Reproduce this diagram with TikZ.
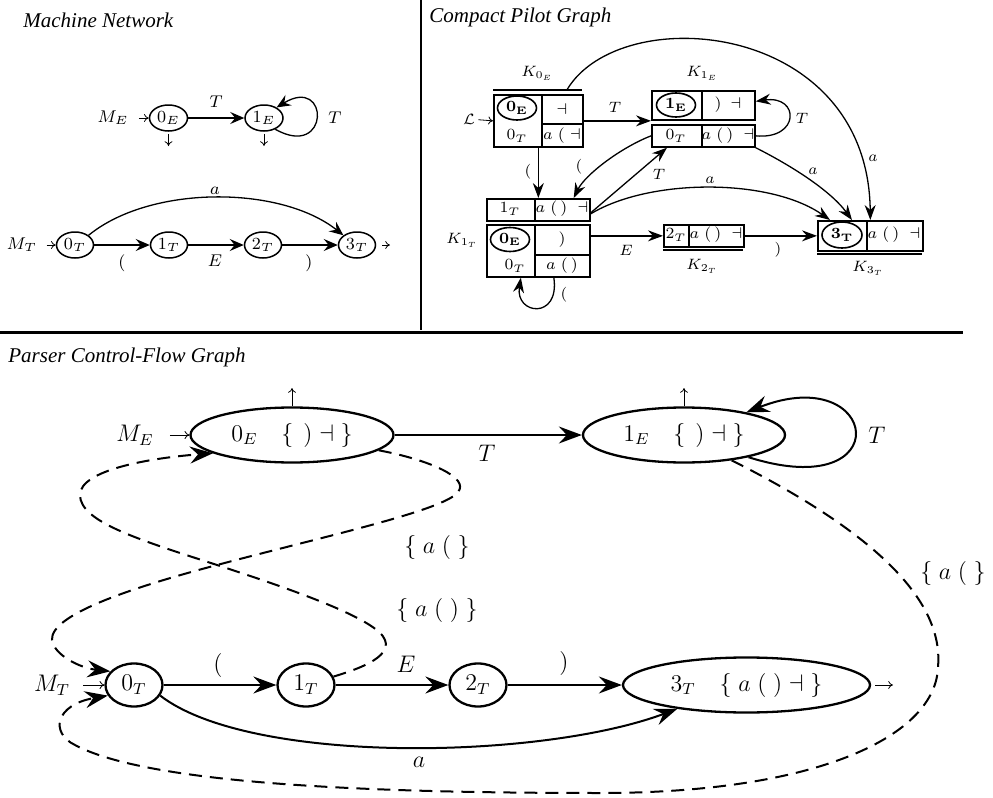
\RequirePackage{fix-cm}
\documentclass[tikz,border=0pt]{standalone}
\usepackage[no-math]{fontspec}
\setmainfont{Liberation Serif}
\usetikzlibrary{arrows.meta,shapes.geometric}
\begin{document}
\begin{tikzpicture}[x=0.5pt,y=0.5pt,
  title/.style={anchor=west,inner sep=0pt,font=\fontsize{10.5}{12}\selectfont\itshape},
  thinarrow/.style={line width=0.4pt,-{To[length=2.4pt,width=4pt]}},
  % top-left
  tlstate/.style={ellipse,draw,line width=0.75pt,minimum width=19pt,minimum height=13pt,inner sep=0pt,font=\fontsize{8.5}{10}\selectfont},
  tllab/.style={inner sep=0pt,font=\fontsize{8.5}{10}\selectfont},
  tledge/.style={line width=0.65pt,-{Stealth[length=7pt,width=6pt,inset=2.5pt]}},
  % top-right
  cellbox/.style={rectangle,draw,line width=0.85pt,inner sep=0pt,anchor=north west},
  celltext/.style={inner sep=0pt,font=\fontsize{7.8}{9}\selectfont},
  cellstate/.style={ellipse,draw,line width=0.8pt,minimum width=19.5pt,minimum height=12pt,inner sep=0pt,font=\fontsize{7.8}{9}\selectfont},
  trlab/.style={inner sep=0pt,font=\fontsize{7.5}{9}\selectfont},
  tredge/.style={line width=0.65pt,-{Stealth[length=7.5pt,width=5.5pt,inset=2.5pt]}},
  % bottom
  bstate/.style={ellipse,draw,line width=1.15pt,inner sep=0pt,font=\fontsize{12}{14}\selectfont},
  blab/.style={inner sep=0pt,font=\fontsize{12}{14}\selectfont},
  bedge/.style={line width=1pt,-{Stealth[length=11.5pt,width=8.5pt,inset=4pt]}},
  bdash/.style={bedge,dash pattern=on 6.5pt off 4pt}
]
\useasboundingbox (0,0) rectangle (993,-798);
\fill[white] (0,0) rectangle (993,-798);

% ---------- section frame ----------
\draw[line width=1pt] (421,0) -- (421,-330);
\draw[line width=1.5pt] (0,-332) -- (963,-332);

\node[title] (t1) at (23,-20) {Machine Network};
\node[title] (t2) at (429,-17) {Compact Pilot Graph};
\node[title] (t3) at (8,-357) {Parser Control-Flow Graph};

% ---------- Machine network ----------
\node[tlstate] (tE0) at (168.5,-118) {$0_E$};
\node[tlstate] (tE1) at (264,-118) {$1_E$};
\node[tllab] (lME) at (113,-118) {$M_E$};
\coordinate (tE0d) at (168.5,-146);
\coordinate (tE1d) at (264,-146);
\draw[thinarrow,shorten <=5pt] (lME) -- (tE0);
\draw[thinarrow,shorten <=1pt] (tE0.south) -- (tE0d);
\draw[thinarrow,shorten <=1pt] (tE1.south) -- (tE1d);
\draw[tledge] (tE0) -- node[tllab,above=5pt] {$T$} (tE1);
\draw[tledge] (tE1.-45) .. controls (330,-160) and (330,-75) .. (tE1.40);
\node[tllab] (lTl) at (335,-118) {$T$};

\node[tlstate,minimum width=18.5pt] (tT0) at (75,-245) {$0_T$};
\node[tlstate,minimum width=18.5pt] (tT1) at (169,-245) {$1_T$};
\node[tlstate,minimum width=18.5pt] (tT2) at (263,-245) {$2_T$};
\node[tlstate,minimum width=18.5pt] (tT3) at (357,-245) {$3_T$};
\node[tllab] (lMT) at (22,-245) {$M_T$};
\coordinate (tT3f) at (390,-245);
\draw[thinarrow,shorten <=4.5pt] (lMT) -- (tT0);
\draw[thinarrow,shorten <=3pt] (tT3.east) -- (tT3f);
\draw[tledge] (tT0) -- (tT1);
\draw[tledge] (tT1) -- (tT2);
\draw[tledge] (tT2) -- (tT3);
\node[tllab] at (122,-263) {$($};
\node[tllab] at (215,-261) {$E$};
\node[tllab] at (309,-263) {$)$};
\draw[tledge] (tT0.north east) .. controls (150,-185) and (280,-185) .. (tT3.north west);
\node[tllab] at (215,-191) {$a$};

% ---------- Compact pilot graph ----------
\node[cellbox,minimum width=44.5pt,minimum height=26pt] (K0E) at (493,-94) {};
\node[cellbox,minimum width=51.5pt,minimum height=14.5pt] (K1Eu) at (651,-90) {};
\node[cellbox,minimum width=51.5pt,minimum height=11pt] (K1El) at (651,-124) {};
\node[cellbox,minimum width=51.5pt,minimum height=11pt] (K1Tu) at (486,-198) {};
\node[cellbox,minimum width=51.5pt,minimum height=26pt] (K1Tl) at (486,-224) {};
\node[cellbox,minimum width=40pt,minimum height=11pt] (K2T) at (663,-224) {};
\node[cellbox,minimum width=52.5pt,minimum height=15pt] (K3T) at (817,-220) {};

\begin{scope}[line width=0.85pt]
\draw (542,-94) -- (542,-146);
\draw (542,-124) -- (582,-124);
\draw (702,-90) -- (702,-119);
\draw (702,-124) -- (702,-146);
\draw (535,-198) -- (535,-220);
\draw (535,-224) -- (535,-276);
\draw (535,-255) -- (589,-255);
\draw (689,-224) -- (689,-246);
\draw (867,-220) -- (867,-250);
\draw (493,-90) -- (582,-90);
\draw (663,-250) -- (743,-250);
\draw[line width=0.6pt] (817,-254) -- (922,-254);
\end{scope}

\node[cellstate] (c0E) at (517,-108) {$\mathbf{0_E}$};
\node[celltext] at (517,-136) {$0_T$};
\node[celltext] at (562,-109) {$\dashv$};
\node[celltext] at (562,-136) {$a\;(\;\dashv$};

\node[cellstate] (c1E) at (676,-105) {$\mathbf{1_E}$};
\node[celltext] at (728,-105) {$)\ \dashv$};
\node[celltext] at (676,-136) {$0_T$};
\node[celltext] at (728,-136) {$a\;(\,)\;\dashv$};

\node[celltext] at (510,-209) {$1_T$};
\node[celltext] at (562,-209) {$a\;(\,)\;\dashv$};
\node[cellstate] (c0E2) at (510,-239.5) {$\mathbf{0_E}$};
\node[celltext] at (562,-240) {$)$};
\node[celltext] at (515,-266) {$0_T$};
\node[celltext] at (562,-266) {$a\;(\,)$};

\node[celltext] at (676,-235) {$2_T$};
\node[celltext] at (716,-235) {$a\;(\,)\;\dashv$};

\node[cellstate,minimum width=20pt,minimum height=13pt] (c3T) at (842,-235) {$\mathbf{3_T}$};
\node[celltext] at (894,-235) {$a\;(\,)\;\dashv$};

\node[trlab] (kl0E) at (537,-73) {$K_{0_E}$};
\node[trlab] (kl1E) at (702,-73) {$K_{1_E}$};
\node[trlab] (kl1T) at (462,-240) {$K_{1_T}$};
\node[trlab] (kl2T) at (702,-266) {$K_{2_T}$};
\node[trlab] (kl3T) at (868,-268) {$K_{3_T}$};

\node[trlab] (lL) at (469,-119) {$\mathcal{L}$};
\draw[thinarrow,shorten <=1.5pt] (lL) -- (K0E.west);

\draw[tredge] (K0E.east) -- (K0E.east -| K1Eu.west);
\node[trlab] at (615,-107) {$T$};
\draw[tredge] (K0E.south) -- (K1Tu.north);
\node[trlab] at (528,-172) {$($};
\draw[tredge] (K1El.west) .. controls (620,-148) and (585,-175) .. ([xshift=-8.5pt]K1Tu.north east);
\node[trlab] at (579,-167) {$($};
\draw[tredge] ([yshift=-1.5pt]K1Tu.east) -- ([xshift=8pt]K1El.south west);
\node[trlab] at (659,-174) {$T$};
\draw[tredge] ([yshift=-2pt]K1Tu.east) .. controls (650,-178) and (770,-178) .. ([xshift=6.5pt]K3T.north west);
\node[trlab] at (710,-180) {$a$};
\draw[tredge] (K1El.south east) .. controls (790,-165) and (830,-190) .. ([xshift=17.5pt]K3T.north west);
\node[trlab] at (813,-171) {$a$};
\draw[tredge] ([xshift=14.25pt,yshift=2pt]K0E.north) .. controls (620,0) and (868,-20) .. (K3T.north);
\node[trlab] at (873,-158) {$a$};
\draw[tredge] (K1El.east) .. controls (800,-140) and (800,-95) .. ([yshift=2pt]K1Eu.east);
\node[trlab] at (802,-118) {$T$};
\draw[tredge] (K1Tl.east |- K2T.west) -- (K2T.west);
\node[trlab] at (626,-250) {$E$};
\draw[tredge] (K2T.east) -- (K2T.east -| K3T.west);
\node[trlab] at (778,-250) {$)$};
\draw[tredge] ([xshift=7.75pt]K1Tl.south) .. controls (560,-320) and (515,-315) .. ([xshift=-8.75pt]K1Tl.south);
\node[trlab] at (564,-295) {$($};

% ---------- Parser control-flow graph ----------
\node[bstate,minimum width=101.5pt,minimum height=27.5pt] (bE0) at (292,-435) {$0_E\quad\{\ \,)\dashv\;\}$};
\node[bstate,minimum width=101pt,minimum height=27.5pt] (bE1) at (684,-435) {$1_E\quad\{\ \,)\dashv\;\}$};
\node[bstate,minimum width=28.5pt,minimum height=21.5pt] (bT0) at (134,-685) {$0_T$};
\node[bstate,minimum width=28.5pt,minimum height=21.5pt] (bT1) at (306,-685) {$1_T$};
\node[bstate,minimum width=28.5pt,minimum height=21.5pt] (bT2) at (478,-685) {$2_T$};
\node[bstate,minimum width=123.5pt,minimum height=27.5pt] (bT3) at (746.5,-685) {$3_T\quad\{\;a\;(\;)\dashv\;\}$};

\node[blab] (lbME) at (135,-435) {$M_E$};
\node[blab] (lbMT) at (52,-685) {$M_T$};
\coordinate (bE0u) at (292,-388);
\coordinate (bE1u) at (684,-388);
\coordinate (bT3f) at (893,-685);
\draw[thinarrow,shorten <=8pt] (lbME) -- (bE0);
\draw[thinarrow,shorten <=6.5pt] (lbMT) -- (bT0);
\draw[thinarrow] (bE0.north) -- (bE0u);
\draw[thinarrow] (bE1.north) -- (bE1u);
\draw[thinarrow,shorten <=2pt] (bT3.east) -- (bT3f);

\draw[bedge] (bE0) -- (bE1);
\node[blab] at (487,-453) {$T$};
\draw[bedge] (bE1.-19) .. controls (900,-505) and (880,-360) .. (bE1.20);
\node[blab] at (877,-435) {$T$};

\draw[bedge] (bT0) -- (bT1);
\draw[bedge] (bT1) -- (bT2);
\draw[bedge] (bT2) -- (bT3);
\node[blab] at (218,-665) {$($};
\node[blab] at (406,-664) {$E$};
\node[blab] at (564,-663) {$)$};
\draw[bedge] (bT0.-22) .. controls (250,-765) and (540,-760) .. (bT3.199);
\node[blab] at (419,-762) {$a$};

\draw[bdash] (bE0.-10) .. controls (430,-460) and (470,-478) .. (458,-492)
  .. controls (445,-510) and (330,-535) .. (217,-565)
  .. controls (130,-588) and (50,-615) .. (52,-640)
  .. controls (54,-655) and (80,-668) .. (bT0.150);
\node[blab] at (437,-547) {$\{\;a\;(\;\}$};

\draw[bdash] (bT1.17) .. controls (355,-670) and (392,-658) .. (385,-640)
  .. controls (378,-620) and (300,-592) .. (217,-565)
  .. controls (140,-540) and (80,-522) .. (80,-495)
  .. controls (80,-470) and (150,-458) .. (bE0.193);
\node[blab] at (437,-610) {$\{\;a\;(\;)\;\}$};

\draw[bdash] (bE1.-28) .. controls (850,-520) and (945,-590) .. (938,-667)
  .. controls (936,-735) and (820,-793) .. (600,-793)
  .. controls (380,-793) and (150,-785) .. (75,-745)
  .. controls (50,-733) and (55,-705) .. (bT0.202);
\node[blab] at (953,-573) {$\{\;a\;(\;\}$};
\end{tikzpicture}
\end{document}
